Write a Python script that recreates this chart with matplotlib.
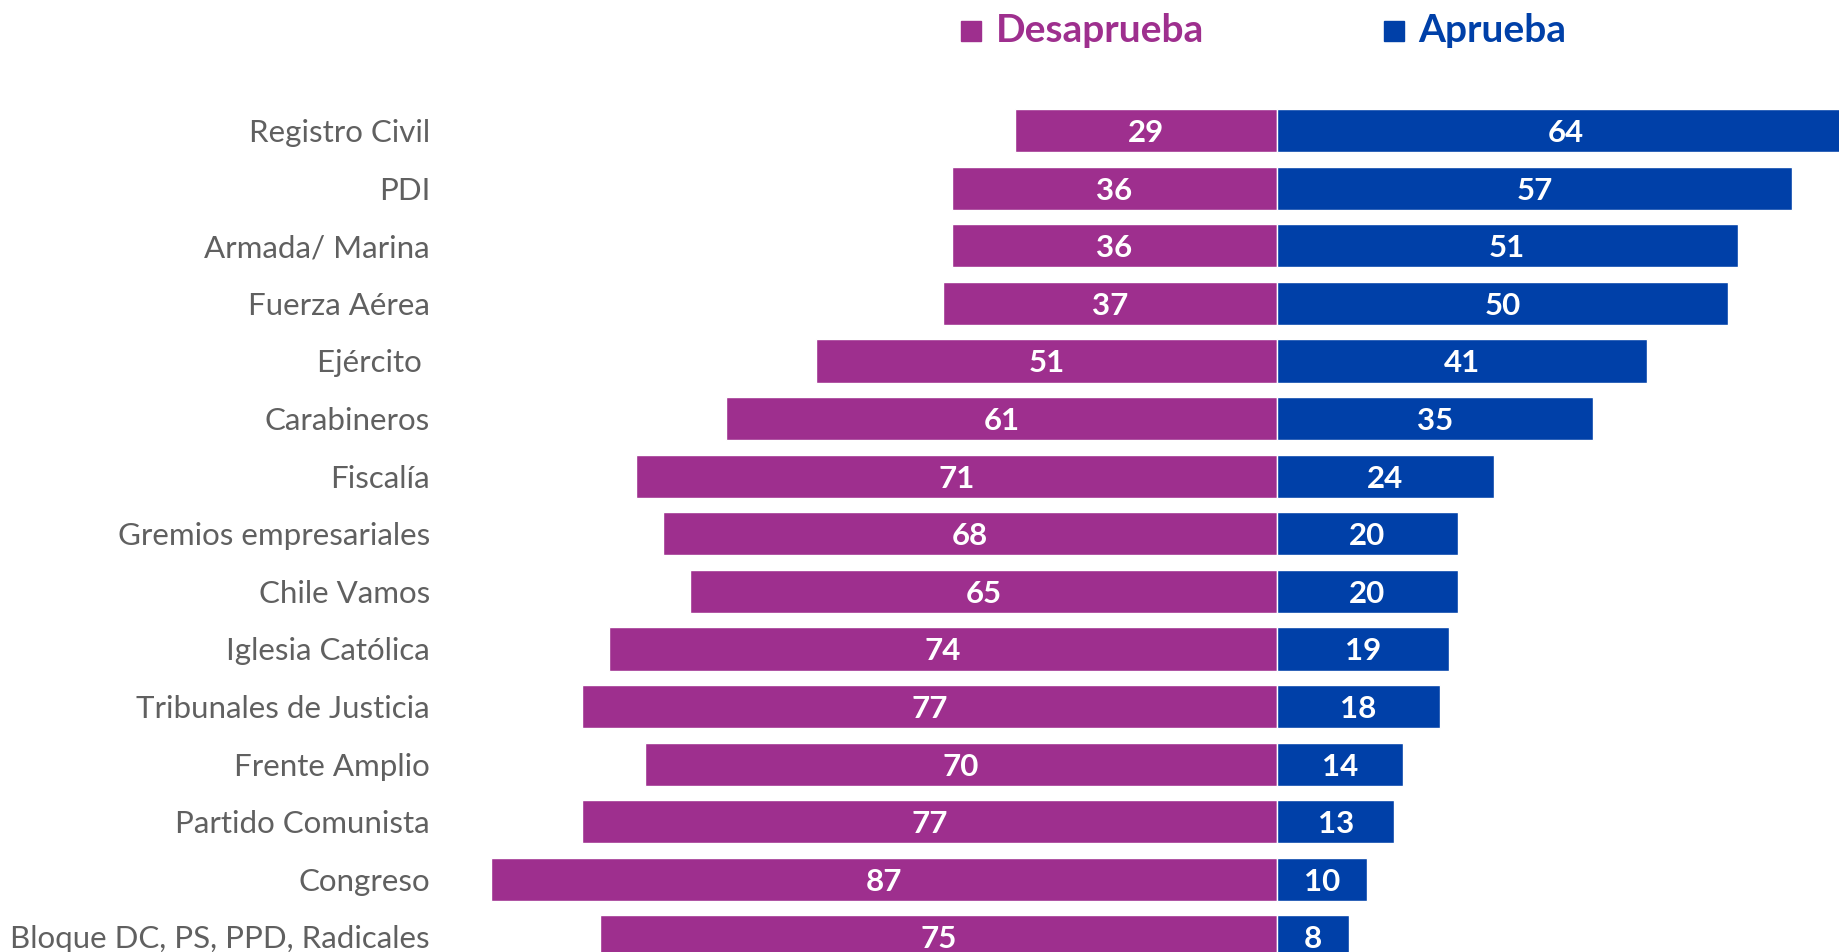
import numpy as np
import matplotlib.pyplot as plt
import matplotlib.transforms as mtransforms

categorias = ["Registro Civil", "PDI", "Armada/ Marina", "Fuerza Aérea", "Ejército ",
              "Carabineros", "Fiscalía", "Gremios empresariales", "Chile Vamos",
              "Iglesia Católica", "Tribunales de Justicia", "Frente Amplio",
              "Partido Comunista", "Congreso", "Bloque DC, PS, PPD, Radicales"]
desaprueba = [29, 36, 36, 37, 51, 61, 71, 68, 65, 74, 77, 70, 77, 87, 75]
aprueba = [64, 57, 51, 50, 41, 35, 24, 20, 20, 19, 18, 14, 13, 10, 8]

color_des = "#9E2F8E"
color_apr = "#0040A8"
gris = "#606060"

plt.rcParams['font.family'] = ['Lato', 'DejaVu Sans']

fig = plt.figure(figsize=(18.39, 9.52), dpi=100)
ax = fig.add_axes([0, 0, 1, 1])

y = np.arange(len(categorias))
ax.barh(y, [-d for d in desaprueba], height=0.75, color=color_des, edgecolor="white", linewidth=1)
ax.barh(y, aprueba, height=0.75, color=color_apr, edgecolor="white", linewidth=1)

for i in range(len(categorias)):
    ax.text(-desaprueba[i] / 2, y[i], str(desaprueba[i]), ha="center", va="center_baseline",
            color="white", fontsize=22.5, fontweight="bold")
    ax.text(aprueba[i] / 2, y[i], str(aprueba[i]), ha="center", va="center_baseline",
            color="white", fontsize=22.5, fontweight="bold")

# etiquetas de categorias a la izquierda
trans = mtransforms.blended_transform_factory(fig.transFigure, ax.transData)
for i, c in enumerate(categorias):
    ax.text(430 / 1839, y[i], c, transform=trans, ha="right", va="center_baseline",
            color=gris, fontsize=22.5)

# escala: 0 en x=1277 px, ~9.03 px por punto
ppu = 9.03
ax.set_xlim(-1277 / ppu, (1839 - 1277) / ppu)
rs = 57.6
ax.set_ylim((952 - 130.5) / rs, -130.5 / rs)
ax.axis("off")

# leyenda
fig.patches.append(plt.Rectangle((961 / 1839, 1 - 41 / 952), 20 / 1839, 20 / 952,
                                 transform=fig.transFigure, color=color_des))
fig.text(996 / 1839, 1 - 31 / 952, "Desaprueba", color=color_des, fontsize=28,
         fontweight="bold", va="center", ha="left")
fig.patches.append(plt.Rectangle((1384 / 1839, 1 - 41 / 952), 20 / 1839, 20 / 952,
                                 transform=fig.transFigure, color=color_apr))
fig.text(1418 / 1839, 1 - 31 / 952, "Aprueba", color=color_apr, fontsize=28,
         fontweight="bold", va="center", ha="left")

fig.savefig("out.png", dpi=100)
